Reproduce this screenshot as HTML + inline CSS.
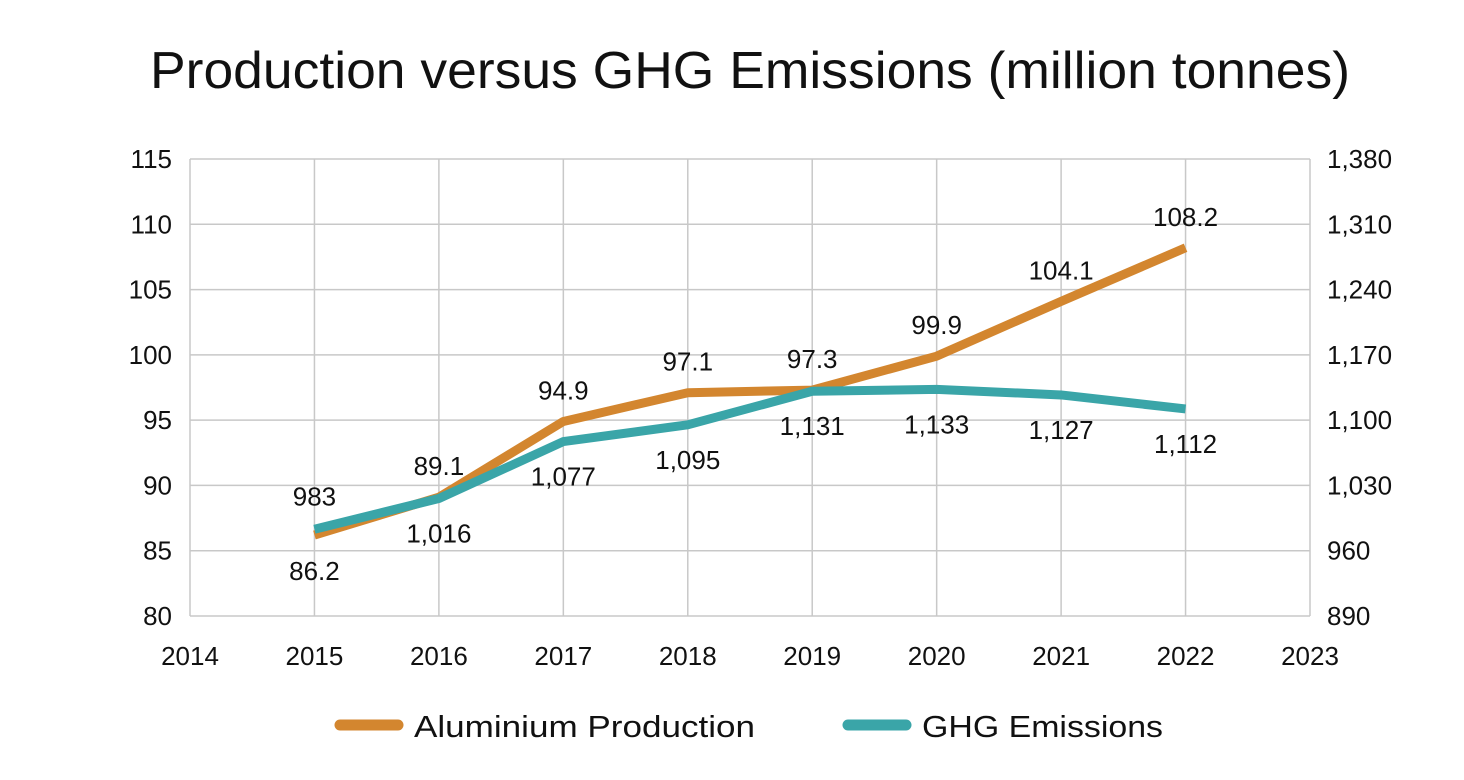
<!DOCTYPE html>
<html><head><meta charset="utf-8"><style>
body{margin:0;background:#fff;}
svg{display:block;font-family:"Liberation Sans",sans-serif;}
</style></head><body>
<svg id="c" width="1464" height="780">
<text x="150" y="88" textLength="1200" lengthAdjust="spacingAndGlyphs" font-size="52" fill="#111">Production versus GHG Emissions (million tonnes)</text>
<g id="grid"></g><g id="axes"></g><g id="series"></g><g id="labels"></g>
<g>
<line x1="340" y1="725" x2="398" y2="725" stroke="#d3862f" stroke-width="11" stroke-linecap="round"/>
<text x="414" y="737" textLength="341" lengthAdjust="spacingAndGlyphs" font-size="31" fill="#111">Aluminium Production</text>
<line x1="848" y1="725" x2="906" y2="725" stroke="#3aa5a8" stroke-width="11" stroke-linecap="round"/>
<text x="922" y="737" textLength="241" lengthAdjust="spacingAndGlyphs" font-size="31" fill="#111">GHG Emissions</text>
</g>
</svg>
<script>
const years=[2015,2016,2017,2018,2019,2020,2021,2022];
const production=[86.2,89.1,94.9,97.1,97.3,99.9,104.1,108.2];
const emissions=[983,1016,1077,1095,1131,1133,1127,1112];
const leftTicks=[80,85,90,95,100,105,110,115];
const rightTicks=[890,960,1030,1100,1170,1240,1310,1380];
const xTicks=[2014,2015,2016,2017,2018,2019,2020,2021,2022,2023];
const NS="http://www.w3.org/2000/svg";
const X0=190,X1=1310,Y0=616,Y1=159;
const x=v=>X0+(v-2014)/(2023-2014)*(X1-X0);
const yl=v=>Y0-(v-80)/(115-80)*(Y0-Y1);
const yr=v=>Y0-(v-890)/(1380-890)*(Y0-Y1);
function mk(tag,attrs,parent,text){const e=document.createElementNS(NS,tag);for(const k in attrs)e.setAttribute(k,attrs[k]);if(text!==undefined)e.textContent=text;document.getElementById(parent).appendChild(e);return e;}
leftTicks.forEach((t,i)=>{
 const l=mk('line',{x1:X0,x2:X1,y1:yl(t),y2:yl(t),stroke:'#c8c8c8','stroke-width':1.5},'grid');
 
 
 const a=mk('text',{x:172,y:yl(t)+9,'text-anchor':'end','font-size':26,fill:'#111'},'axes',t);
 
 
 const b=mk('text',{x:1327,y:yr(rightTicks[i])+9,'font-size':26,fill:'#111'},'axes',rightTicks[i].toLocaleString('en-US'));
 
 
});
xTicks.forEach(t=>{
 const l=mk('line',{x1:x(t),x2:x(t),y1:Y1,y2:Y0,stroke:'#c8c8c8','stroke-width':1.5},'grid');
 
 
 const a=mk('text',{x:x(t),y:665,'text-anchor':'middle','font-size':26,fill:'#111'},'axes',t);
 
 
});
const pp=mk('polyline',{points:years.map((y,i)=>x(y)+','+yl(production[i])).join(' '),fill:'none',stroke:'#d3862f','stroke-width':9,'stroke-linejoin':'round'},'series');


const pe=mk('polyline',{points:years.map((y,i)=>x(y)+','+yr(emissions[i])).join(' '),fill:'none',stroke:'#3aa5a8','stroke-width':9,'stroke-linejoin':'round'},'series');


years.forEach((y,i)=>{
 const below=i===0;
 const a=mk('text',{x:x(y),y:yl(production[i])+(below?45:-22),'text-anchor':'middle','font-size':26,fill:'#111'},'labels',production[i].toFixed(1));
 
 
 const above=i===0;
 const b=mk('text',{x:x(y),y:yr(emissions[i])+(above?-24:44),'text-anchor':'middle','font-size':26,fill:'#111'},'labels',emissions[i].toLocaleString('en-US'));
 
 
});
</script>
</body></html>
